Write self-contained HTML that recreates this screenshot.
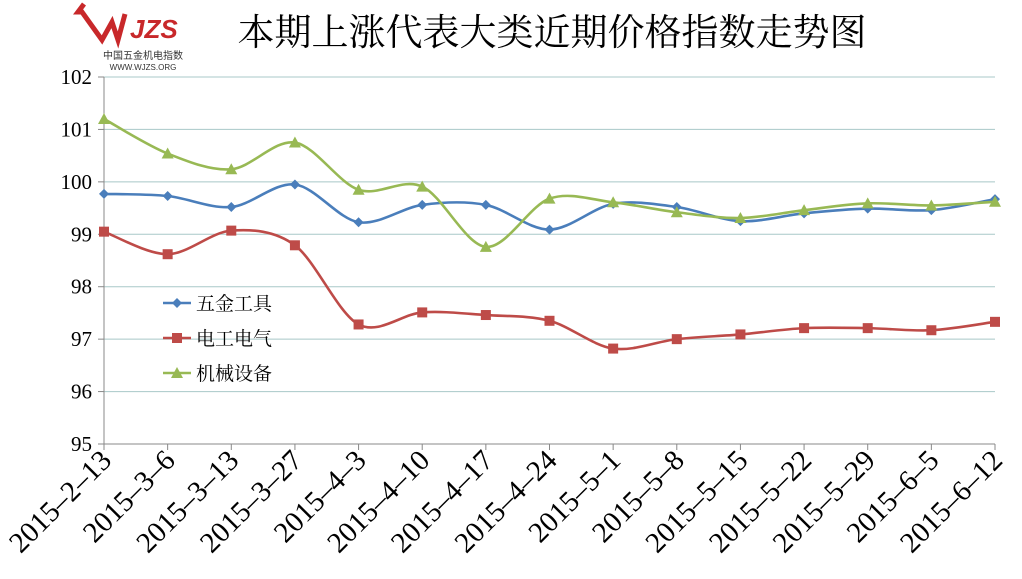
<!DOCTYPE html><html><head><meta charset="utf-8"><style>body{margin:0;background:#fff}svg{display:block}</style></head><body>
<svg id="s" width="1022" height="579" xmlns="http://www.w3.org/2000/svg" font-family="Liberation Serif, Noto Serif CJK SC, serif">
<rect width="1022" height="579" fill="#fff"/>
<g id="grid"></g>
<text x="552" y="45" font-size="37" text-anchor="middle" fill="#000" font-family="Noto Serif CJK SC, serif">本期上涨代表大类近期价格指数走势图</text>
<path d="M84 4 L78 12 L82 12 L102 40 L112 22 L118 40 L125 14" fill="none" stroke="#c8282a" stroke-width="5"/>
<text x="130" y="38" font-size="26" font-style="italic" font-weight="bold" fill="#c8282a" font-family="Liberation Sans, sans-serif">JZS</text>
<text x="143" y="59" font-size="10" text-anchor="middle" fill="#333" font-family="Noto Sans CJK SC, sans-serif">中国五金机电指数</text>
<text x="143" y="70" font-size="8" text-anchor="middle" fill="#333" font-family="Liberation Sans, sans-serif">WWW.WJZS.ORG</text>
<g id="plot"></g>
<g font-size="19" font-family="Noto Serif CJK SC, serif">
<line x1="163" y1="303" x2="191" y2="303" stroke="#4a7ebb" stroke-width="2.5"/><path d="M177 298 L182 303 L177 308 L172 303Z" fill="#4a7ebb"/><text x="196" y="310">五金工具</text>
<line x1="163" y1="338" x2="191" y2="338" stroke="#be4b48" stroke-width="2.5"/><rect x="172" y="333" width="10" height="10" fill="#be4b48"/><text x="196" y="345">电工电气</text>
<line x1="163" y1="373" x2="191" y2="373" stroke="#98b954" stroke-width="2.5"/><path d="M177 367 L183 378 L171 378Z" fill="#98b954"/><text x="196" y="380">机械设备</text>
</g>
</svg>
<script>
var x0=104,x1=995,y0=77,yu=(444-77)/7,dx=(x1-x0)/14;
function Y(v){return y0+(102-v)*yu}function X(i){return x0+i*dx}
var g=document.getElementById('grid'),h='';
for(var v=95;v<=102;v++){var y=Y(v);h+='<line x1="'+x0+'" y1="'+y+'" x2="'+x1+'" y2="'+y+'" stroke="'+(v==95?'#888':'#a8c8c8')+'" stroke-width="1"/>';h+='<line x1="98" y1="'+y+'" x2="104" y2="'+y+'" stroke="#888"/>';h+='<text x="92" y="'+(y+7)+'" font-size="21" text-anchor="end">'+v+'</text>';}
h+='<line x1="104" y1="77" x2="104" y2="444" stroke="#888"/>';
var L=['2015-2-13','2015-3-6','2015-3-13','2015-3-27','2015-4-3','2015-4-10','2015-4-17','2015-4-24','2015-5-1','2015-5-8','2015-5-15','2015-5-22','2015-5-29','2015-6-5','2015-6-12'];
for(var i=0;i<15;i++){var x=X(i);h+='<line x1="'+x+'" y1="444" x2="'+x+'" y2="450" stroke="#888"/>';h+='<text transform="translate('+(x+9)+',462) rotate(-45)" font-size="29" text-anchor="end">'+L[i].replace(/-/g,'\u2013')+'</text>';}
g.innerHTML=h;
var S=[["#4a7ebb","d",[99.77,99.73,99.52,99.95,99.23,99.56,99.56,99.09,99.58,99.52,99.25,99.40,99.49,99.46,99.67]],
["#be4b48","s",[99.05,98.62,99.07,98.79,97.28,97.51,97.46,97.35,96.82,97.00,97.09,97.21,97.21,97.17,97.33]],
["#98b954","t",[101.2,100.54,100.24,100.75,99.85,99.91,98.76,99.68,99.61,99.42,99.31,99.46,99.59,99.55,99.62]]];
var p='';
S.forEach(function(s){var P=s[2].map(function(v,i){return[X(i),Y(v)]});var d='M'+P[0];
for(var i=0;i<14;i++){var a=P[i-1]||P[i],b=P[i],c=P[i+1],e=P[i+2]||c;var t=0.16;
d+=' C'+(b[0]+(c[0]-a[0])*t)+','+(b[1]+(c[1]-a[1])*t)+' '+(c[0]-(e[0]-b[0])*t)+','+(c[1]-(e[1]-b[1])*t)+' '+c;}
p+='<path d="'+d+'" fill="none" stroke="'+s[0]+'" stroke-width="2.6"/>';
P.forEach(function(q){var x=q[0],y=q[1];if(s[1]=='d')p+='<path d="M'+x+' '+(y-5)+' L'+(x+5)+' '+y+' L'+x+' '+(y+5)+' L'+(x-5)+' '+y+'Z" fill="'+s[0]+'"/>';
else if(s[1]=='s')p+='<rect x="'+(x-5)+'" y="'+(y-5)+'" width="10" height="10" fill="'+s[0]+'"/>';
else p+='<path d="M'+x+' '+(y-6)+' L'+(x+6)+' '+(y+5)+' L'+(x-6)+' '+(y+5)+'Z" fill="'+s[0]+'"/>';});});
document.getElementById('plot').innerHTML=p;
</script>
</body></html>
